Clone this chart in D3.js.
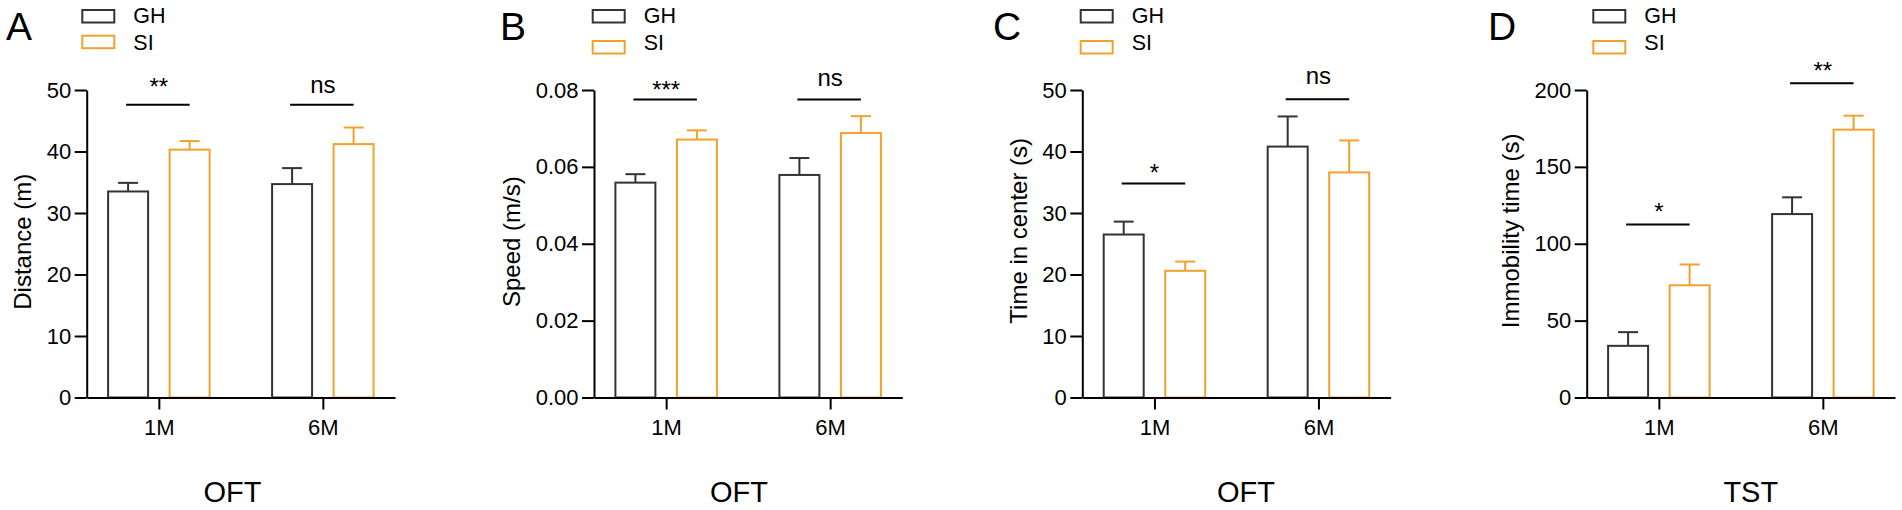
<!DOCTYPE html>
<html>
<head>
<meta charset="utf-8">
<script src="https://cdn.jsdelivr.net/npm/d3@7"></script>
<style>
  html, body { margin: 0; padding: 0; background: #fff; }
  svg { display: block; font-family: "Liberation Sans", Arial, sans-serif; }
</style>
</head>
<body>
<script>
// Four grouped bar panels (GH vs SI at 1M and 6M), mean + SEM

const categories = ['1M', '6M'];
const groups = ['GH', 'SI'];

// A - OFT distance
const distanceGH = [33.5, 34.7];
const distanceGHSem = [1.4, 2.6];
const distanceSI = [40.3, 41.2];
const distanceSISem = [1.4, 2.7];
const distanceTicks = [0, 10, 20, 30, 40, 50];

// B - OFT speed
const speedGH = [0.0559, 0.0579];
const speedGHSem = [0.0022, 0.0044];
const speedSI = [0.0671, 0.0688];
const speedSISem = [0.0024, 0.0044];
const speedTicks = [0, 0.02, 0.04, 0.06, 0.08];

// C - OFT time in center
const centerGH = [26.5, 40.8];
const centerGHSem = [2.1, 4.9];
const centerSI = [20.6, 36.6];
const centerSISem = [1.5, 5.2];
const centerTicks = [0, 10, 20, 30, 40, 50];

// D - TST immobility
const immobGH = [33.6, 119.3];
const immobGHSem = [8.9, 10.9];
const immobSI = [73.0, 174.2];
const immobSISem = [13.5, 9.1];
const immobTicks = [0, 50, 100, 150, 200];

// significance marks: [category, label, level in data units]
const distanceSig = [['1M', '**', 47.6], ['6M', 'ns', 47.6]];
const speedSig = [['1M', '***', 0.0775], ['6M', 'ns', 0.0775]];
const centerSig = [['1M', '*', 34.8], ['6M', 'ns', 48.5]];
const immobSig = [['1M', '*', 112.6], ['6M', '**', 204.4]];

const colors = { GH: '#333333', SI: '#F2A22C' };
const font = '"Liberation Sans", Arial, sans-serif';

const width = 1902;
const height = 510;
const plotTop = 90;
const plotBottom = 397.5;
const axisLength = 308.3;

const panels = [
  { letter: 'A', title: 'Distance (m)', test: 'OFT', max: 50, ticks: distanceTicks, fmt: d3.format('d'),
    gh: distanceGH, ghSem: distanceGHSem, si: distanceSI, siSem: distanceSISem, sig: distanceSig,
    axisX: 86.7, letterX: 6, legendX: 82.3, siBoxY: 35.7, testX: 145.8, titleY: 241.7, nsGap: 12, starGap: 10 },
  { letter: 'B', title: 'Speed (m/s)', test: 'OFT', max: 0.08, ticks: speedTicks, fmt: d3.format('.2f'),
    gh: speedGH, ghSem: speedGHSem, si: speedSI, siSem: speedSISem, sig: speedSig,
    axisX: 594, letterX: 500, legendX: 592.7, siBoxY: 41, testX: 145, titleY: 241.7, nsGap: 13.7, starGap: 2 },
  { letter: 'C', title: 'Time in center (s)', test: 'OFT', max: 50, ticks: centerTicks, fmt: d3.format('d'),
    gh: centerGH, ghSem: centerGHSem, si: centerSI, siSem: centerSISem, sig: centerSig,
    axisX: 1082.3, letterX: 993, legendX: 1080.7, siBoxY: 41, testX: 163.7, titleY: 230.8, nsGap: 15, starGap: 2 },
  { letter: 'D', title: 'Immobility time (s)', test: 'TST', max: 200, ticks: immobTicks, fmt: d3.format('d'),
    gh: immobGH, ghSem: immobGHSem, si: immobSI, siSem: immobSISem, sig: immobSig,
    axisX: 1586.7, letterX: 1488, legendX: 1593.3, siBoxY: 41, testX: 164.1, titleY: 230.8, nsGap: 13, starGap: 4.5 }
];

const svg = d3.select('body').append('svg')
  .attr('width', width)
  .attr('height', height);

panels.forEach(p => {
  // Panel letter
  svg.append('text')
    .attr('x', p.letterX)
    .attr('y', 40)
    .style('font-size', '39px')
    .style('fill', '#000')
    .text(p.letter);

  // Legend
  const legend = svg.append('g')
    .attr('transform', `translate(${p.legendX},0)`);

  const legendRows = [
    { name: 'GH', boxY: 10, textY: 22.7 },
    { name: 'SI', boxY: p.siBoxY, textY: 50 }
  ];

  legend.selectAll('rect')
    .data(legendRows)
    .enter()
    .append('rect')
    .attr('x', 0)
    .attr('y', d => d.boxY)
    .attr('width', 32)
    .attr('height', 12.5)
    .style('fill', 'none')
    .style('stroke', d => colors[d.name])
    .style('stroke-width', '2px');

  legend.selectAll('text')
    .data(legendRows)
    .enter()
    .append('text')
    .attr('x', 51)
    .attr('y', d => d.textY)
    .style('font-size', '21.5px')
    .style('fill', '#000')
    .text(d => d.name);

  const g = svg.append('g')
    .attr('transform', `translate(${p.axisX},0)`);

  // Scales
  const yScale = d3.scaleLinear()
    .domain([0, p.max])
    .range([plotBottom, plotTop]);

  const xScale = d3.scalePoint()
    .domain(categories)
    .range([0, axisLength])
    .padding(0.44);

  const groupScale = d3.scaleBand()
    .domain(groups)
    .range([-50.75, 50.75])
    .paddingInner(0.35);

  const bw = groupScale.bandwidth();

  // Bars
  const rows = [];
  categories.forEach((c, i) => {
    rows.push({ cat: c, group: 'GH', mean: p.gh[i], sem: p.ghSem[i] });
    rows.push({ cat: c, group: 'SI', mean: p.si[i], sem: p.siSem[i] });
  });

  const barX = d => xScale(d.cat) + groupScale(d.group);

  // Error bars (upper only)
  g.selectAll('.err')
    .data(rows)
    .enter()
    .append('line')
    .attr('class', 'err')
    .attr('x1', d => barX(d) + bw / 2)
    .attr('x2', d => barX(d) + bw / 2)
    .attr('y1', d => yScale(d.mean))
    .attr('y2', d => yScale(d.mean + d.sem))
    .style('stroke', d => colors[d.group])
    .style('stroke-width', '2px');

  g.selectAll('.cap')
    .data(rows)
    .enter()
    .append('line')
    .attr('class', 'cap')
    .attr('x1', d => barX(d) + bw / 4)
    .attr('x2', d => barX(d) + bw * 3 / 4)
    .attr('y1', d => yScale(d.mean + d.sem))
    .attr('y2', d => yScale(d.mean + d.sem))
    .style('stroke', d => colors[d.group])
    .style('stroke-width', '2px');

  g.selectAll('.bar')
    .data(rows)
    .enter()
    .append('rect')
    .attr('class', 'bar')
    .attr('x', barX)
    .attr('y', d => yScale(d.mean))
    .attr('width', bw)
    .attr('height', d => yScale(0) - yScale(d.mean))
    .style('fill', '#fff')
    .style('stroke', d => colors[d.group])
    .style('stroke-width', '2px');

  // Axes
  const yAxisG = g.append('g')
    .call(d3.axisLeft(yScale)
      .tickValues(p.ticks)
      .tickFormat(p.fmt)
      .tickSize(12)
      .tickSizeOuter(0)
      .tickPadding(3.5));

  const xAxisG = g.append('g')
    .attr('transform', `translate(0,${plotBottom})`)
    .call(d3.axisBottom(xScale)
      .tickSize(12)
      .tickSizeOuter(0)
      .tickPadding(9.5));

  [yAxisG, xAxisG].forEach(ax => {
    ax.attr('font-family', font).attr('font-size', 22);
    ax.selectAll('path, line')
      .style('stroke', '#000')
      .style('stroke-width', '2px');
    ax.selectAll('text').style('fill', '#000');
  });

  // Y title placed left of the widest tick label
  const labelLeft = d3.min(yAxisG.selectAll('text').nodes(), n => n.getBBox().x);

  g.append('text')
    .attr('transform', `translate(${labelLeft - 15.7},${p.titleY}) rotate(-90)`)
    .attr('text-anchor', 'middle')
    .style('font-size', '24px')
    .style('fill', '#000')
    .text(p.title);

  // Test label under the panel
  g.append('text')
    .attr('x', p.testX)
    .attr('y', 502.3)
    .attr('text-anchor', 'middle')
    .style('font-size', '29px')
    .style('fill', '#000')
    .text(p.test);

  // Significance lines
  const sig = g.selectAll('.sig')
    .data(p.sig)
    .enter()
    .append('g')
    .attr('class', 'sig');

  sig.append('line')
    .attr('x1', d => xScale(d[0]) + groupScale('GH') + bw / 2 - 2)
    .attr('x2', d => xScale(d[0]) + groupScale('SI') + bw / 2)
    .attr('y1', d => yScale(d[2]))
    .attr('y2', d => yScale(d[2]))
    .style('stroke', '#000')
    .style('stroke-width', '2px');

  sig.append('text')
    .attr('x', d => xScale(d[0]))
    .attr('y', d => yScale(d[2]) - (d[1] === 'ns' ? p.nsGap : p.starGap))
    .attr('text-anchor', 'middle')
    .style('font-size', '24px')
    .style('fill', '#000')
    .text(d => d[1]);
});
</script>
</body>
</html>
